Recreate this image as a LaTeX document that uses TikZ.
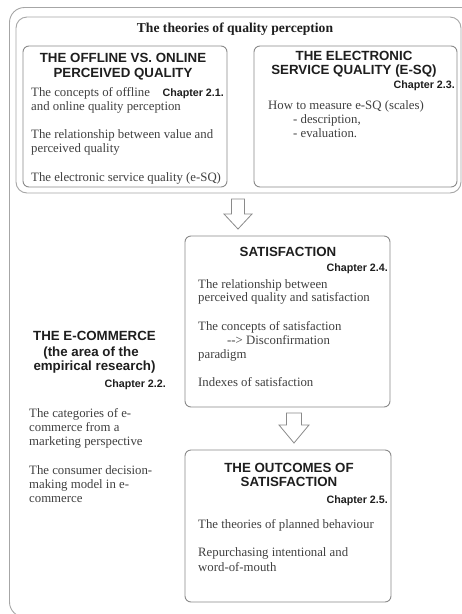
\documentclass[tikz,border=0pt]{standalone}
\usepackage{fontspec}
\setmainfont{Liberation Serif}
\newfontfamily\hsf{Liberation Sans}
\definecolor{boxline}{HTML}{8A8A8A}
\definecolor{frameline}{HTML}{A6A6A6}
\definecolor{bodytxt}{HTML}{404040}
\definecolor{headtxt}{HTML}{1E1E1E}
\begin{document}
\begin{tikzpicture}[x=1pt,y=-1pt,
 body/.style={anchor=base west,inner sep=0pt,text=bodytxt,font=\fontsize{12.8}{14}\selectfont},
 head/.style={anchor=base,inner sep=0pt,text=headtxt,font=\hsf\bfseries\fontsize{13.3}{15}\selectfont},
 chap/.style={anchor=base east,inner sep=0pt,text=headtxt,font=\hsf\bfseries\fontsize{10.7}{12}\selectfont},
 titletxt/.style={anchor=base,inner sep=0pt,text=headtxt,font=\bfseries\fontsize{13.6}{16}\selectfont},
 panel/.style={draw=boxline,line width=0.9pt,rounded corners=6pt},
 framebox/.style={draw=frameline,line width=0.9pt},
 blockarrow/.style={draw=boxline,fill=white,line width=0.8pt,line join=miter}]
\useasboundingbox (0,0) rectangle (462,614);
\clip (0,0) rectangle (462,614);
\fill[white] (0,0) rectangle (462,614);
% outer frame (cut by the page on the right and at the bottom)
\draw[framebox,rounded corners=15pt] (490,7.5) -- (9.5,7.5) -- (9.5,617) -- (490,617);
% group of quality perception
\draw[framebox,rounded corners=11pt] (16,17) rectangle (461,193);
\node[titletxt] (title) at (235,32.5) {The theories of quality perception};
% left box
\draw[panel] (23,46) rectangle (227,187);
\node[head] (h1a) at (123,62) {THE OFFLINE VS. ONLINE};
\node[head] (h1b) at (123,77) {PERCEIVED QUALITY};
\node[chap] (c1) at (224,96) {Chapter 2.1.};
\node[body] (l1) at (31,96) {The concepts of offline};
\node[body] (l2) at (31,110) {and online quality perception};
\node[body] (l3) at (31,138) {The relationship between value and};
\node[body] (l4) at (31,152) {perceived quality};
\node[body] (l5) at (31,181) {The electronic service quality (e-SQ)};
% right box
\draw[panel] (254,46) rectangle (457,187);
\node[head] (h2a) at (354,60) {THE ELECTRONIC};
\node[head] (h2b) at (354,74) {SERVICE QUALITY (E-SQ)};
\node[chap] (c2) at (455,88) {Chapter 2.3.};
\node[body] (r1) at (268,109) {How to measure e-SQ (scales)};
\node[body] (r2) at (293,123) {- description,};
\node[body] (r3) at (293,137) {- evaluation.};
% arrow 1
\coordinate (a1) at (238,199);
\draw[blockarrow] (231.5,199) -- (244.5,199) -- (244.5,214) -- (252,214) -- (238,229) -- (224,214) -- (231.5,214) -- cycle;
% satisfaction box
\draw[panel] (185,236) rectangle (390,407);
\node[head] (h3) at (288,256) {SATISFACTION};
\node[chap] (c3) at (388,271) {Chapter 2.4.};
\node[body] (s1) at (198,288) {The relationship between};
\node[body] (s2) at (198,301) {perceived quality and satisfaction};
\node[body] (s3) at (198,330) {The concepts of satisfaction};
\node[body] (s4) at (227,344) {-\kern0pt-> Disconfirmation};
\node[body] (s5) at (198,358) {paradigm};
\node[body] (s6) at (198,386) {Indexes of satisfaction};
% arrow 2
\draw[blockarrow] (286.5,413) -- (301.5,413) -- (301.5,425) -- (309,425) -- (294,443) -- (279,425) -- (286.5,425) -- cycle;
% e-commerce
\node[head] (h4a) at (94.5,340) {THE E-COMMERCE};
\node[head] (h4b) at (91,356) {(the area of the};
\node[head] (h4c) at (94.5,370) {empirical research)};
\node[chap] (c4) at (166,387) {Chapter 2.2.};
\node[body] (e1) at (29,417) {The categories of e-};
\node[body] (e2) at (29,431) {commerce from a};
\node[body] (e3) at (29,445) {marketing perspective};
\node[body] (e4) at (29,474) {The consumer decision-};
\node[body] (e5) at (29,488) {making model in e-};
\node[body] (e6) at (29,502) {commerce};
% outcomes box
\draw[panel] (185,450) rectangle (391,602);
\node[head] (h5a) at (289,472) {THE OUTCOMES OF};
\node[head] (h5b) at (289,486) {SATISFACTION};
\node[chap] (c5) at (388,503) {Chapter 2.5.};
\node[body] (o1) at (198,528) {The theories of planned behaviour};
\node[body] (o2) at (198,556) {Repurchasing intentional and};
\node[body] (o3) at (198,571) {word-of-mouth};
\end{tikzpicture}
\end{document}
